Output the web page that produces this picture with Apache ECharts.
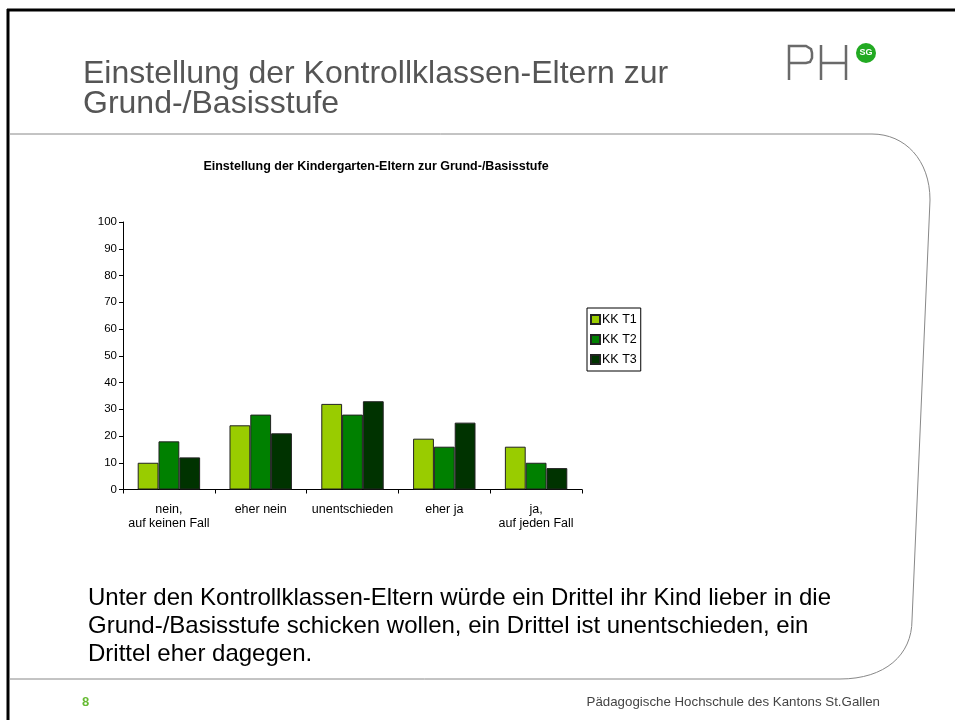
<!DOCTYPE html>
<html>
<head>
<meta charset="utf-8">
<script src="https://cdn.jsdelivr.net/npm/echarts@6/dist/echarts.min.js"></script>
<style>
  html, body { margin: 0; padding: 0; background: #fff; }
  #chart { width: 955px; height: 720px; }
</style>
</head>
<body>
<div id="chart"></div>
<script>
// Daten (Prozent)
const categories = ['nein,\nauf keinen Fall', 'eher nein', 'unentschieden', 'eher ja', 'ja,\nauf jeden Fall']
const seriesNames = ['KK T1', 'KK T2', 'KK T3']
const valuesT1 = [10, 24, 32, 19, 16]
const valuesT2 = [18, 28, 28, 16, 10]
const valuesT3 = [12, 21, 33, 25, 8]
const colors = ['#99cc00', '#008000', '#003300']

const font = '"Liberation Sans", Arial, sans-serif'

const chart = echarts.init(document.getElementById('chart'))

// Balkenserien
const series = [valuesT1, valuesT2, valuesT3].map((vals, i) => ({
  name: seriesNames[i],
  type: 'bar',
  data: vals,
  barGap: '0%',
  barCategoryGap: '32%',
  itemStyle: { color: colors[i], borderColor: '#222', borderWidth: 1 },
  emphasis: { disabled: true }
}))

const grey = { stroke: '#888', lineWidth: 1, fill: null }

chart.setOption({
  animation: false,
  backgroundColor: '#fff',
  textStyle: { fontFamily: font },
  grid: { left: 123, top: 222, width: 459, height: 267.5, containLabel: false },
  legend: {
    orient: 'vertical',
    left: 587,
    top: 308,
    data: seriesNames,
    icon: 'rect',
    itemWidth: 9,
    itemHeight: 9,
    itemGap: 7,
    padding: [5, 4, 5, 3],
    borderColor: '#000',
    borderWidth: 1,
    textStyle: { fontSize: 12.5, color: '#000', padding: [0, 0, 0, -3] },
    selectedMode: false
  },
  xAxis: {
    type: 'category',
    data: categories,
    axisLine: { lineStyle: { color: '#000', width: 1 } },
    axisTick: { show: true, length: 4, lineStyle: { color: '#000' } },
    axisLabel: { color: '#000', fontSize: 12.5, lineHeight: 14, margin: 13, interval: 0 }
  },
  yAxis: {
    type: 'value',
    min: 0,
    max: 100,
    interval: 10,
    splitLine: { show: false },
    axisLine: { show: true, lineStyle: { color: '#000', width: 1 } },
    axisTick: { show: true, length: 4, lineStyle: { color: '#000' } },
    axisLabel: { color: '#000', fontSize: 11.5, margin: 6 }
  },
  series: series,
  graphic: [
    // schwarzer Rahmen oben und links
    { type: 'line', shape: { x1: 7, y1: 10, x2: 955, y2: 10 }, style: { stroke: '#000', lineWidth: 3 } },
    { type: 'line', shape: { x1: 8, y1: 9, x2: 8, y2: 720 }, style: { stroke: '#000', lineWidth: 3 } },
    // graue Inhaltsfläche mit runden Ecken rechts
    { type: 'line', shape: { x1: 9, y1: 134, x2: 872, y2: 134 }, style: grey },
    { type: 'bezierCurve', shape: { x1: 872, y1: 134, cpx1: 905, cpy1: 134, cpx2: 930, cpy2: 160, x2: 930, y2: 200 }, style: grey },
    { type: 'line', shape: { x1: 930, y1: 200, x2: 912, y2: 620 }, style: grey },
    { type: 'bezierCurve', shape: { x1: 912, y1: 620, cpx1: 912, cpy1: 655, cpx2: 885, cpy2: 679, x2: 840, y2: 679 }, style: grey },
    { type: 'line', shape: { x1: 840, y1: 679, x2: 9, y2: 679 }, style: grey },
    // Folientitel (Blockmitte zwischen den beiden Zeilen)
    {
      type: 'text', x: 83, y: 89,
      style: { text: 'Einstellung der Kontrollklassen-Eltern zur\nGrund-/Basisstufe', fontSize: 32, lineHeight: 30, fill: '#555', verticalAlign: 'middle', fontFamily: font }
    },
    // Logo PH
    { type: 'polyline', shape: { points: [[789, 80], [789, 46], [806, 46], [811, 49], [812, 53], [812, 58], [810, 62], [806, 63], [789, 63]] }, style: { stroke: '#6a6a6a', lineWidth: 2.5, fill: null } },
    { type: 'line', shape: { x1: 821, y1: 45, x2: 821, y2: 80 }, style: { stroke: '#6a6a6a', lineWidth: 2.5 } },
    { type: 'line', shape: { x1: 846, y1: 45, x2: 846, y2: 80 }, style: { stroke: '#6a6a6a', lineWidth: 2.5 } },
    { type: 'line', shape: { x1: 821, y1: 63, x2: 846, y2: 63 }, style: { stroke: '#6a6a6a', lineWidth: 2.5 } },
    { type: 'circle', shape: { cx: 866, cy: 53, r: 10 }, style: { fill: '#22aa22' } },
    { type: 'text', x: 866, y: 53, style: { text: 'SG', fontSize: 9, fontWeight: 'bold', fill: '#fff', align: 'center', verticalAlign: 'middle', fontFamily: font } },
    // Diagrammtitel
    {
      type: 'text', x: 376, y: 167,
      style: { text: 'Einstellung der Kindergarten-Eltern zur Grund-/Basisstufe', fontSize: 12.5, fontWeight: 'bold', fill: '#000', align: 'center', verticalAlign: 'middle', fontFamily: font }
    },
    // Fazit (Blockmitte = mittlere Zeile)
    {
      type: 'text', x: 88, y: 626,
      style: {
        text: 'Unter den Kontrollklassen-Eltern würde ein Drittel ihr Kind lieber in die\nGrund-/Basisstufe schicken wollen, ein Drittel ist unentschieden, ein\nDrittel eher dagegen.',
        fontSize: 24, lineHeight: 28, fill: '#000', verticalAlign: 'middle', fontFamily: font
      }
    },
    // Fusszeile
    { type: 'text', x: 82, y: 702, style: { text: '8', fontSize: 13, fontWeight: 'bold', fill: '#66bb33', verticalAlign: 'middle', fontFamily: font } },
    { type: 'text', x: 880, y: 702, style: { text: 'Pädagogische Hochschule des Kantons St.Gallen', fontSize: 13.3, fill: '#444', align: 'right', verticalAlign: 'middle', fontFamily: font } }
  ]
})
</script>
</body>
</html>
